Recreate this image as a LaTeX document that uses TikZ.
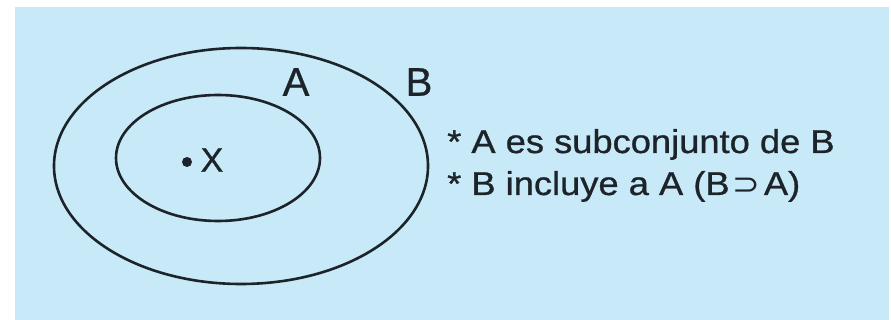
\documentclass[tikz,border=0pt]{standalone}
\usepackage{fontspec}
\setmainfont{Liberation Sans}[FakeBold=0.8]
\newfontfamily\symfont{DejaVu Sans}
\definecolor{bgblue}{RGB}{200,233,248}
\definecolor{ink}{RGB}{28,36,42}
\begin{document}
\begin{tikzpicture}[x=1pt,y=-1pt,
  setline/.style={draw=ink,line width=2.6pt},
  lbl/.style={text=ink,inner sep=0pt,font=\fontsize{40}{46}\selectfont},
  txt/.style={text=ink,inner sep=0pt,anchor=base west,xscale=1.1,font=\fontsize{33}{38}\selectfont}]
\useasboundingbox (0,0) rectangle (891,320);
\fill[bgblue] (15,7) rectangle (889,320);
\draw[setline] (241,166) ellipse [x radius=187, y radius=118];
\draw[setline] (218,158) ellipse [x radius=102, y radius=63];
\fill[ink] (187,162) circle (5pt);
\node[lbl,font=\fontsize{34}{40}\selectfont] (x) at (212,160) {X};
\node[lbl] (a) at (296,82) {A};
\node[lbl] (b) at (419,82) {B};
\node[txt] (l1) at (447,153) {* A es subconjunto de B};
\node[txt] (l2) at (447,195) {* B incluye a A (B\kern3pt{\symfont\fontsize{30}{30}\selectfont ⊃}\kern3pt A)};
\end{tikzpicture}
\end{document}
